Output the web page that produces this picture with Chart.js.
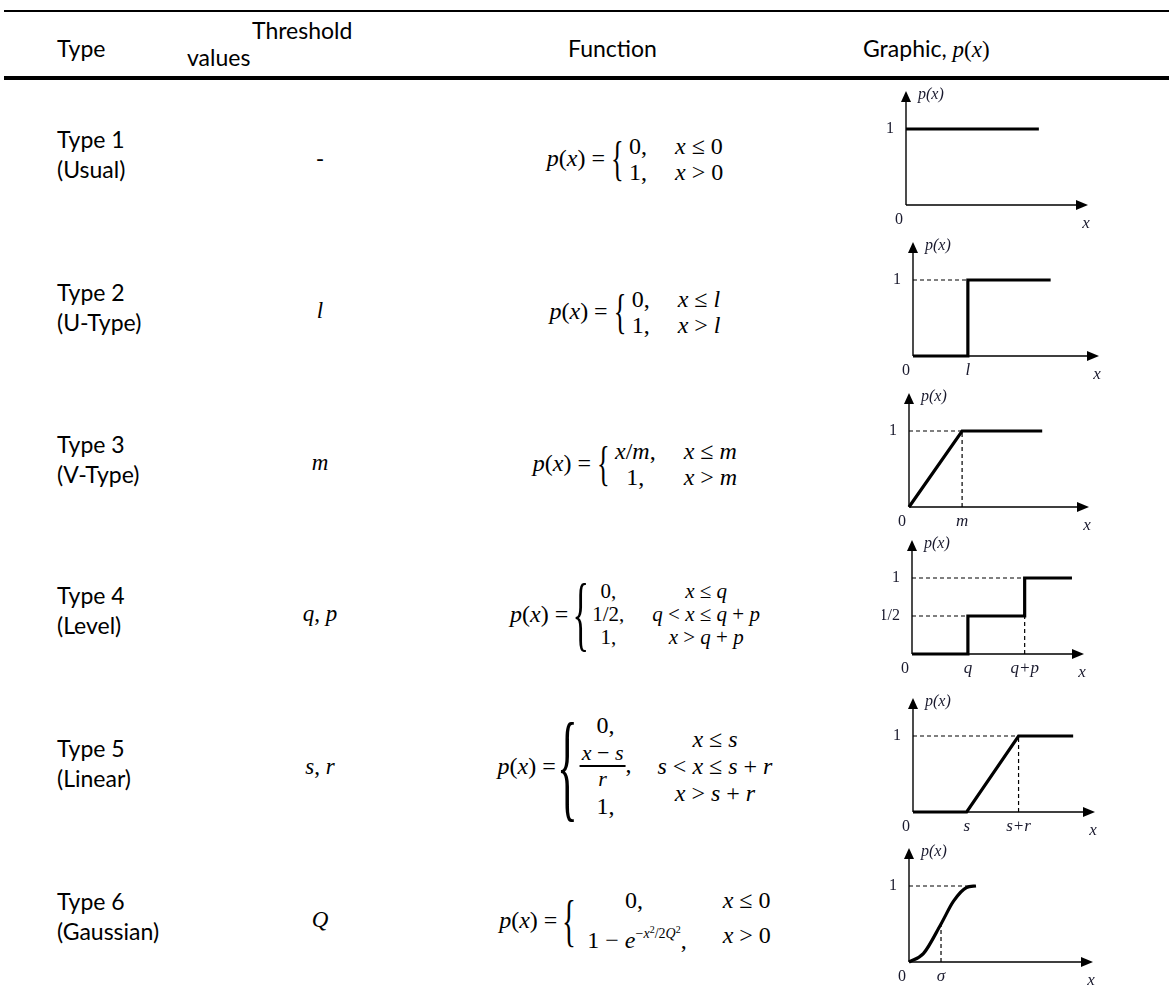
<!DOCTYPE html>
<html>
<head>
<meta charset="utf-8">
<script src="https://cdn.jsdelivr.net/npm/chart.js@4.4.0/dist/chart.umd.min.js"></script>
<style>
html, body { margin: 0; padding: 0; background: #fff; }
body { width: 1169px; height: 991px; position: relative; overflow: hidden; font-family: Lato, 'Open Sans', sans-serif; color: #000; }
.rule { position: absolute; left: 4px; right: 0; background: #000; }
.t { position: absolute; font-size: 23px; line-height: 30px; white-space: nowrap; }
.m { font-family: 'Liberation Serif', serif; font-size: 23px; }
.fx { position: absolute; left: 635px; transform: translate(-50%, -50%); display: flex; align-items: center;
      font-family: 'Liberation Serif', serif; font-size: 24px; white-space: nowrap; }
.br { display: inline-flex; justify-content: center; width: 14px; margin: 0 5px; }
.br span { display: inline-block; }
.cs { border-collapse: collapse; }
.cs td { padding: 0; }
.c1 { text-align: center; }
.c2 { padding-left: 28px !important; }
.col { display: flex; flex-direction: column; align-items: center; }
.frac { display: inline-flex; flex-direction: column; align-items: center; vertical-align: middle; margin: 3px 0; font-size: 22px; }
.frac .num { border-bottom: 2px solid #000; padding: 0 2px; line-height: 24px; }
.frac .den { line-height: 24px; }
sup { font-size: 14px; vertical-align: 10px; }
sup sup { font-size: 10px; vertical-align: 5px; }
canvas { position: absolute; }
</style>
</head>
<body>

<div class="rule" style="top:10px;height:2px"></div>
<div class="t" style="left:57px;top:33px">Type</div>
<div class="t" style="left:252px;top:15px">Threshold</div>
<div class="t" style="left:187px;top:42px">values</div>
<div class="t" style="left:568px;top:33px">Function</div>
<div class="t" style="left:863px;top:33px">Graphic, <span class="m"><i>p</i>(<i>x</i>)</span></div>
<div class="rule" style="top:76px;height:4px"></div>

<div id="rows"></div>

<div class="fx" style="top:158px">
  <span><i>p</i>(<i>x</i>) =</span>
  <span class="br"><span style="font-size:48px;transform:scaleX(0.55)">{</span></span>
  <table class="cs" style="line-height:26px">
    <tr><td>0,</td><td class="c2"><i>x</i> ≤ 0</td></tr>
    <tr><td>1,</td><td class="c2"><i>x</i> &gt; 0</td></tr>
  </table>
</div>

<div class="fx" style="top:311px">
  <span><i>p</i>(<i>x</i>) =</span>
  <span class="br"><span style="font-size:48px;transform:scaleX(0.55)">{</span></span>
  <table class="cs" style="line-height:26px">
    <tr><td>0,</td><td class="c2"><i>x</i> ≤ <i>l</i></td></tr>
    <tr><td>1,</td><td class="c2"><i>x</i> &gt; <i>l</i></td></tr>
  </table>
</div>

<div class="fx" style="top:463px">
  <span><i>p</i>(<i>x</i>) =</span>
  <span class="br"><span style="font-size:48px;transform:scaleX(0.55)">{</span></span>
  <table class="cs" style="line-height:26px">
    <tr><td class="c1"><i>x</i>/<i>m</i>,</td><td class="c2"><i>x</i> ≤ <i>m</i></td></tr>
    <tr><td class="c1">1,</td><td class="c2"><i>x</i> &gt; <i>m</i></td></tr>
  </table>
</div>

<div class="fx" style="top:614px">
  <span><i>p</i>(<i>x</i>) =</span>
  <span class="br"><span style="font-size:82px;transform:scaleX(0.42)">{</span></span>
  <table class="cs" style="line-height:23px;font-size:21px">
    <tr><td class="c1">0,</td><td class="c2 c1"><i>x</i> ≤ <i>q</i></td></tr>
    <tr><td class="c1">1/2,</td><td class="c2 c1"><i>q</i> &lt; <i>x</i> ≤ <i>q</i> + <i>p</i></td></tr>
    <tr><td class="c1">1,</td><td class="c2 c1"><i>x</i> &gt; <i>q</i> + <i>p</i></td></tr>
  </table>
</div>

<div class="fx" style="top:766px">
  <span><i>p</i>(<i>x</i>) =</span>
  <span class="br"><span style="font-size:120px;transform:scaleX(0.36)">{</span></span>
  <div class="col" style="line-height:25px">
    <span>0,</span>
    <span><span class="frac"><span class="num"><i>x</i> − <i>s</i></span><span class="den"><i>r</i></span></span>,</span>
    <span>1,</span>
  </div>
  <div class="col" style="line-height:27px;margin-left:26px">
    <span><i>x</i> ≤ <i>s</i></span>
    <span><i>s</i> &lt; <i>x</i> ≤ <i>s</i> + <i>r</i></span>
    <span><i>x</i> &gt; <i>s</i> + <i>r</i></span>
  </div>
</div>

<div class="fx" style="top:920px">
  <span><i>p</i>(<i>x</i>) =</span>
  <span class="br"><span style="font-size:58px;transform:scaleX(0.5)">{</span></span>
  <table class="cs" style="line-height:30px">
    <tr><td class="c1">0,</td><td class="c2" style="padding-left:36px !important"><i>x</i> ≤ 0</td></tr>
    <tr><td class="c1">&nbsp;1 − <i>e</i><sup>−<i>x</i><sup>2</sup>/2<i>Q</i><sup>2</sup></sup>,</td><td class="c2" style="padding-left:36px !important"><i>x</i> &gt; 0</td></tr>
  </table>
</div>

<canvas id="g0" width="230" height="155"></canvas>
<canvas id="g1" width="230" height="155"></canvas>
<canvas id="g2" width="230" height="155"></canvas>
<canvas id="g3" width="230" height="155"></canvas>
<canvas id="g4" width="230" height="155"></canvas>
<canvas id="g5" width="230" height="155"></canvas>

<script>
const typeNames = ['Type 1', 'Type 2', 'Type 3', 'Type 4', 'Type 5', 'Type 6'];
const typeKinds = ['(Usual)', '(U-Type)', '(V-Type)', '(Level)', '(Linear)', '(Gaussian)'];
const thresholds = ['-', 'l', 'm', 'q,p', 's,r', 'Q'];

// curves, x in axis units (arrow tip = 10), y = p(x)
const usualX = [0, 7.3];
const usualY = [1, 1];
const uTypeX = [0, 2.95, 2.95, 7.4];
const uTypeY = [0, 0, 1, 1];
const vTypeX = [0, 2.95, 7.4];
const vTypeY = [0, 1, 1];
const levelX = [0, 3.25, 3.25, 6.55, 6.55, 9.3];
const levelY = [0, 0, 0.5, 0.5, 1, 1];
const linearX = [0, 2.95, 5.8, 8.8];
const linearY = [0, 0, 1, 1];
const gaussX = [0, 0.78, 1.74, 2.42, 3.13, 3.64];
const gaussY = [0, 0.11, 0.5, 0.8, 0.98, 1];

// dashed guides [x1, y1, x2, y2]
const guideSegs = [
  [],
  [[0, 1, 2.95, 1]],
  [[0, 1, 2.95, 1], [2.95, 0, 2.95, 1]],
  [[0, 1, 6.55, 1], [0, 0.5, 3.25, 0.5], [6.55, 0, 6.55, 0.5]],
  [[0, 1, 5.8, 1], [5.8, 0, 5.8, 1]],
  [[0, 1, 3.64, 1], [1.74, 0, 1.74, 0.5]]
];

const xTickVals = [[], [2.95], [2.95], [3.25, 6.55], [2.95, 5.8], [1.74]];
const xTickText = [[], ['l'], ['m'], ['q', 'q+p'], ['s', 's+r'], ['σ']];
const yTickVals = [[1], [1], [1], [1, 0.5], [1], [1]];
const yTickText = [['1'], ['1'], ['1'], ['1', '1/2'], ['1'], ['1']];

const curvesX = [usualX, uTypeX, vTypeX, levelX, linearX, gaussX];
const curvesY = [usualY, uTypeY, vTypeY, levelY, linearY, gaussY];

// layout
const rowY = [158, 311, 463, 614, 767, 920];
const origins = [[906, 205], [913, 356], [909, 507], [912, 654], [913, 812], [909, 962]];
const axisLen = [182, 186, 180, 172, 182, 184];

const rows = document.getElementById('rows');
typeNames.forEach((n, i) => {
  const d = document.createElement('div');
  d.className = 't';
  d.style.left = '57px';
  d.style.top = (rowY[i] - 34) + 'px';
  d.innerHTML = n + '<br>' + typeKinds[i];
  rows.appendChild(d);

  const th = document.createElement('div');
  th.className = 't m';
  th.style.left = '320px';
  th.style.top = (rowY[i] - 15) + 'px';
  th.style.transform = 'translateX(-50%)';
  th.innerHTML = thresholds[i] === '-' ? '<span style="font-family:Lato">-</span>'
    : thresholds[i].replace(/[a-zA-Z]/g, c => '<i>' + c + '</i>').replace(',', ', ');
  rows.appendChild(th);
});

const serif = "'Liberation Serif', 'Times New Roman', serif";

const axesPlugin = {
  id: 'axes',
  beforeDatasetsDraw(chart) {
    const { ctx, scales: { x, y } } = chart;
    const x0 = x.getPixelForValue(0), y0 = y.getPixelForValue(0);
    const xe = x.getPixelForValue(x.max), ye = y.getPixelForValue(y.max);
    ctx.save();
    ctx.strokeStyle = '#000';
    ctx.fillStyle = '#000';
    ctx.lineWidth = 1.4;
    ctx.beginPath();
    ctx.moveTo(x0, y0); ctx.lineTo(xe - 8, y0);
    ctx.moveTo(x0, y0); ctx.lineTo(x0, ye + 8);
    ctx.stroke();
    ctx.beginPath();
    ctx.moveTo(xe, y0); ctx.lineTo(xe - 12, y0 - 5); ctx.lineTo(xe - 12, y0 + 5); ctx.closePath();
    ctx.fill();
    ctx.beginPath();
    ctx.moveTo(x0, ye); ctx.lineTo(x0 - 5, ye + 11); ctx.lineTo(x0 + 5, ye + 11); ctx.closePath();
    ctx.fill();
    ctx.restore();
  },
  afterDatasetsDraw(chart, args, opts) {
    const { ctx, scales: { x, y } } = chart;
    const x0 = x.getPixelForValue(0), y0 = y.getPixelForValue(0);
    const xe = x.getPixelForValue(x.max), ye = y.getPixelForValue(y.max);
    ctx.save();
    ctx.fillStyle = '#1a1a2e';
    ctx.textBaseline = 'middle';
    ctx.font = '16px ' + serif;
    ctx.textAlign = 'center';
    ctx.fillText('0', x0 - 7, y0 + 15);
    ctx.textAlign = 'right';
    opts.yv.forEach((v, k) => ctx.fillText(opts.yt[k], x0 - 12, y.getPixelForValue(v)));
    ctx.font = 'italic 17px ' + serif;
    ctx.textAlign = 'center';
    opts.xv.forEach((v, k) => ctx.fillText(opts.xt[k], x.getPixelForValue(v), y0 + 15));
    ctx.fillText('x', xe - 2, y0 + 19);
    ctx.textAlign = 'left';
    ctx.font = 'italic 16px ' + serif;
    ctx.fillText('p(x)', x0 + 12, ye + 4);
    ctx.restore();
  }
};

curvesX.forEach((cx, i) => {
  const cv = document.getElementById('g' + i);
  const [ox, oy] = origins[i];
  cv.style.left = (ox - 30) + 'px';
  cv.style.top = (oy - 130) + 'px';

  const datasets = guideSegs[i].map(s => ({
    data: [{ x: s[0], y: s[1] }, { x: s[2], y: s[3] }],
    borderColor: '#000',
    borderWidth: 1.2,
    borderDash: [4, 3],
    pointRadius: 0,
    clip: false
  }));
  datasets.push({
    data: cx.map((v, k) => ({ x: v, y: curvesY[i][k] })),
    borderColor: '#000',
    borderWidth: 3.2,
    pointRadius: 0,
    tension: i === 5 ? 0.4 : 0,
    cubicInterpolationMode: i === 5 ? 'monotone' : 'default',
    borderJoinStyle: 'miter',
    clip: false
  });

  new Chart(cv, {
    type: 'line',
    data: { datasets },
    plugins: [axesPlugin],
    options: {
      responsive: false,
      animation: false,
      devicePixelRatio: 1,
      layout: { padding: { left: 30, right: 200 - axisLen[i], top: 16, bottom: 25 } },
      plugins: {
        legend: { display: false },
        tooltip: { enabled: false },
        axes: { xv: xTickVals[i], xt: xTickText[i], yv: yTickVals[i], yt: yTickText[i] }
      },
      scales: {
        x: { type: 'linear', display: false, min: 0, max: 10 },
        y: { type: 'linear', display: false, min: 0, max: 1.5 }
      }
    }
  });
});
</script>
</body>
</html>
